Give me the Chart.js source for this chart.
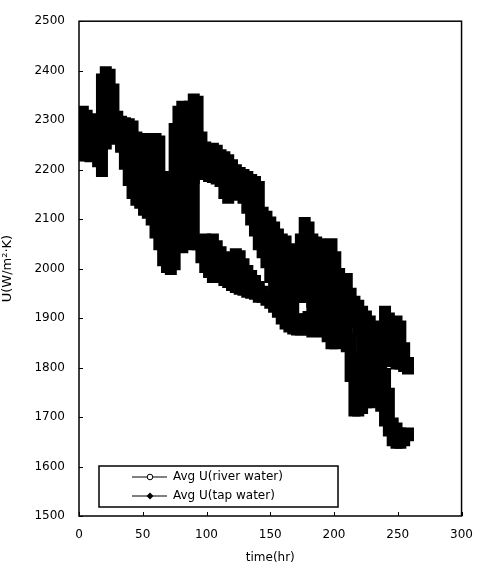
<!DOCTYPE html>
<html>
<head>
<meta charset="utf-8">
<script src="https://cdn.jsdelivr.net/npm/chart.js"></script>
<style>
  html, body { margin: 0; padding: 0; background: #fff; }
  canvas { display: block; }
</style>
</head>
<body>
<canvas id="chart" width="485" height="568"></canvas>
<script>
// time (hr) – readings taken every 3 hr, with the upper/lower extent of each scatter band
const times = [0,3,6,9,12,15,18,21,24,27,30,33,36,39,42,45,48,51,54,57,60,63,66,69,72,75,78,81,84,87,
  90,93,96,99,102,105,108,111,114,117,120,123,126,129,132,135,138,141,144,147,150,153,156,159,162,165,168,171,174,177,
  180,183,186,189,192,195,198,201,204,207,210,213,216,219,222,225,228,231,234,237,240,243,246,249,252,255,258];

const riverHi = [2315,2320,2312,2305,2295,2285,2385,2400,2395,2365,
  2310,2300,2297,2295,2290,2268,2210,2265,2260,2235,
  2265,2260,2188,2185,2150,2285,2320,2330,2300,2330,
  2345,2340,2268,2248,2241,2245,2241,2232,2228,2222,
  2212,2202,2196,2192,2188,2182,2178,2168,2116,2108,
  2096,2086,2072,2062,2058,2042,2012,2006,2062,2095,
  2086,2062,2056,2052,2048,2048,2052,2026,1992,1982,
  1982,1952,1936,1928,1916,1906,1896,1886,1872,1882,
  1916,1902,1862,1896,1886,1842,1812];
const riverLo = [2260,2265,2260,2255,2250,2245,2250,2270,2275,2270,
  2265,2250,2240,2230,2220,2210,2180,2190,2185,2180,
  2180,2175,2150,2130,2100,2150,2160,2180,2150,2160,
  2180,2194,2194,2188,2184,2182,2179,2174,2150,2140,
  2146,2154,2154,2140,2120,2096,2074,2046,2030,2010,
  1980,1960,1955,1950,1950,1945,1945,1940,1940,1940,
  1940,1930,1920,1910,1900,1900,1890,1890,1885,1885,
  1890,1920,1890,1870,1810,1790,1800,1810,1820,1820,
  1820,1815,1810,1805,1805,1800,1795];

const tapHi = [2280,2275,2270,2265,2260,2250,2260,2300,2290,2290,
  2280,2270,2260,2250,2240,2230,2200,2190,2180,2180,
  2180,2175,2150,2130,2100,2150,2160,2180,2150,2160,
  2180,2060,2056,2062,2058,2062,2048,2036,2022,2016,
  2026,2032,2028,2012,1998,1988,1978,1966,1956,1948,
  1940,1932,1940,1940,1935,1930,1925,1900,1900,1900,
  1905,1930,1935,1930,1920,1910,1900,1900,1900,1890,
  1880,1860,1820,1780,1760,1800,1840,1840,1840,1820,
  1790,1750,1690,1680,1670,1665,1670];
const tapLo = [2226,2226,2226,2224,2226,2214,2194,2250,2260,2262,
  2260,2243,2209,2176,2150,2136,2130,2116,2110,2096,
  2070,2046,2014,2000,1996,2006,2060,2040,2080,2054,
  2046,2046,2020,2000,1990,1980,1980,1980,1974,1970,
  1964,1960,1956,1954,1950,1948,1946,1940,1940,1934,
  1928,1920,1910,1896,1886,1880,1876,1874,1874,1876,
  1874,1870,1875,1875,1870,1860,1846,1846,1850,1855,
  1840,1780,1710,1710,1715,1727,1727,1730,1730,1720,
  1690,1670,1650,1645,1645,1650,1660];

const seriesNames = ["Avg U(river water)", "Avg U(tap water)"];
const xTicks = [0, 50, 100, 150, 200, 250, 300];
const yTicks = [1500, 1600, 1700, 1800, 1900, 2000, 2100, 2200, 2300, 2400, 2500];

// the dense readings pile up into a solid band of markers: each reading's spread
// is drawn as a floating bar, inflated by the marker radius so neighbours overlap
function spread(label, hi, lo) {
  return {
    label,
    data: times.map((t, i) => ({ x: t, y: [lo[i], hi[i]] })),
    backgroundColor: "#000",
    borderColor: "#000",
    borderWidth: 0,
    barThickness: 3,
    inflateAmount: 4.5,
    borderRadius: 0,
    borderSkipped: false,
    grouped: false,
  };
}

Chart.defaults.font.family = "'DejaVu Sans', sans-serif";
Chart.defaults.font.size = 12;
Chart.defaults.color = "#000";

// frame, inward ticks and the boxed legend
const framePlugin = {
  id: "frame",
  afterDraw(chart) {
    const { ctx, chartArea: a, scales } = chart;
    ctx.save();
    ctx.strokeStyle = "#000";
    ctx.lineWidth = 1.5;
    ctx.strokeRect(a.left, a.top, a.right - a.left, a.bottom - a.top);

    ctx.lineWidth = 1;
    ctx.beginPath();
    yTicks.forEach((v) => {
      const y = Math.round(scales.y.getPixelForValue(v)) + 0.5;
      ctx.moveTo(a.left, y);
      ctx.lineTo(a.left + 4, y);
    });
    xTicks.forEach((v) => {
      const x = Math.round(scales.x.getPixelForValue(v)) + 0.5;
      ctx.moveTo(x, a.bottom);
      ctx.lineTo(x, a.bottom - 4);
    });
    ctx.stroke();

    // legend box
    const bx = 99, by = 466, bw = 239, bh = 41;
    ctx.fillStyle = "#fff";
    ctx.fillRect(bx, by, bw, bh);
    ctx.lineWidth = 1.5;
    ctx.strokeRect(bx, by, bw, bh);
    ctx.font = "12px 'DejaVu Sans', sans-serif";
    ctx.textBaseline = "middle";
    seriesNames.forEach((name, i) => {
      const y = by + 11 + i * 19;
      ctx.lineWidth = 1;
      ctx.beginPath();
      ctx.moveTo(132, y);
      ctx.lineTo(167, y);
      ctx.stroke();
      if (i === 0) {
        ctx.beginPath();
        ctx.arc(150, y, 2.8, 0, Math.PI * 2);
        ctx.fillStyle = "#fff";
        ctx.fill();
        ctx.stroke();
      } else {
        ctx.beginPath();
        ctx.moveTo(150, y - 3.5);
        ctx.lineTo(153.5, y);
        ctx.lineTo(150, y + 3.5);
        ctx.lineTo(146.5, y);
        ctx.closePath();
        ctx.fillStyle = "#000";
        ctx.fill();
      }
      ctx.fillStyle = "#000";
      ctx.fillText(name, 173, y);
    });
    ctx.restore();
  },
};

new Chart(document.getElementById("chart"), {
  type: "bar",
  data: {
    datasets: [
      spread(seriesNames[0], riverHi, riverLo),
      spread(seriesNames[1], tapHi, tapLo),
    ],
  },
  options: {
    responsive: false,
    animation: false,
    devicePixelRatio: 1,
    layout: { padding: { left: 0, right: 13, top: 15, bottom: 0 } },
    plugins: { legend: { display: false }, tooltip: { enabled: false } },
    scales: {
      x: {
        type: "linear",
        min: 0,
        max: 300,
        offset: false,
        afterFit: (s) => { s.height = 52; },
        afterBuildTicks: (s) => { s.ticks = xTicks.map((v) => ({ value: v })); },
        grid: { display: false, drawTicks: false },
        border: { display: false },
        ticks: { padding: 12, font: { size: 12 }, callback: (v) => String(v) },
        title: { display: true, text: "time(hr)", font: { size: 12 }, padding: { top: 0, bottom: 3 } },
      },
      y: {
        type: "linear",
        min: 1500,
        max: 2500,
        afterFit: (s) => { s.width = 79; },
        afterBuildTicks: (s) => { s.ticks = yTicks.map((v) => ({ value: v })); },
        grid: { display: false, drawTicks: false },
        border: { display: false },
        ticks: { padding: 14, font: { size: 12 }, callback: (v) => String(v) },
        title: { display: true, text: "U(W/m²·K)", font: { size: 13 }, padding: { top: 0, bottom: 12 } },
      },
    },
  },
  plugins: [framePlugin],
});
</script>
</body>
</html>
